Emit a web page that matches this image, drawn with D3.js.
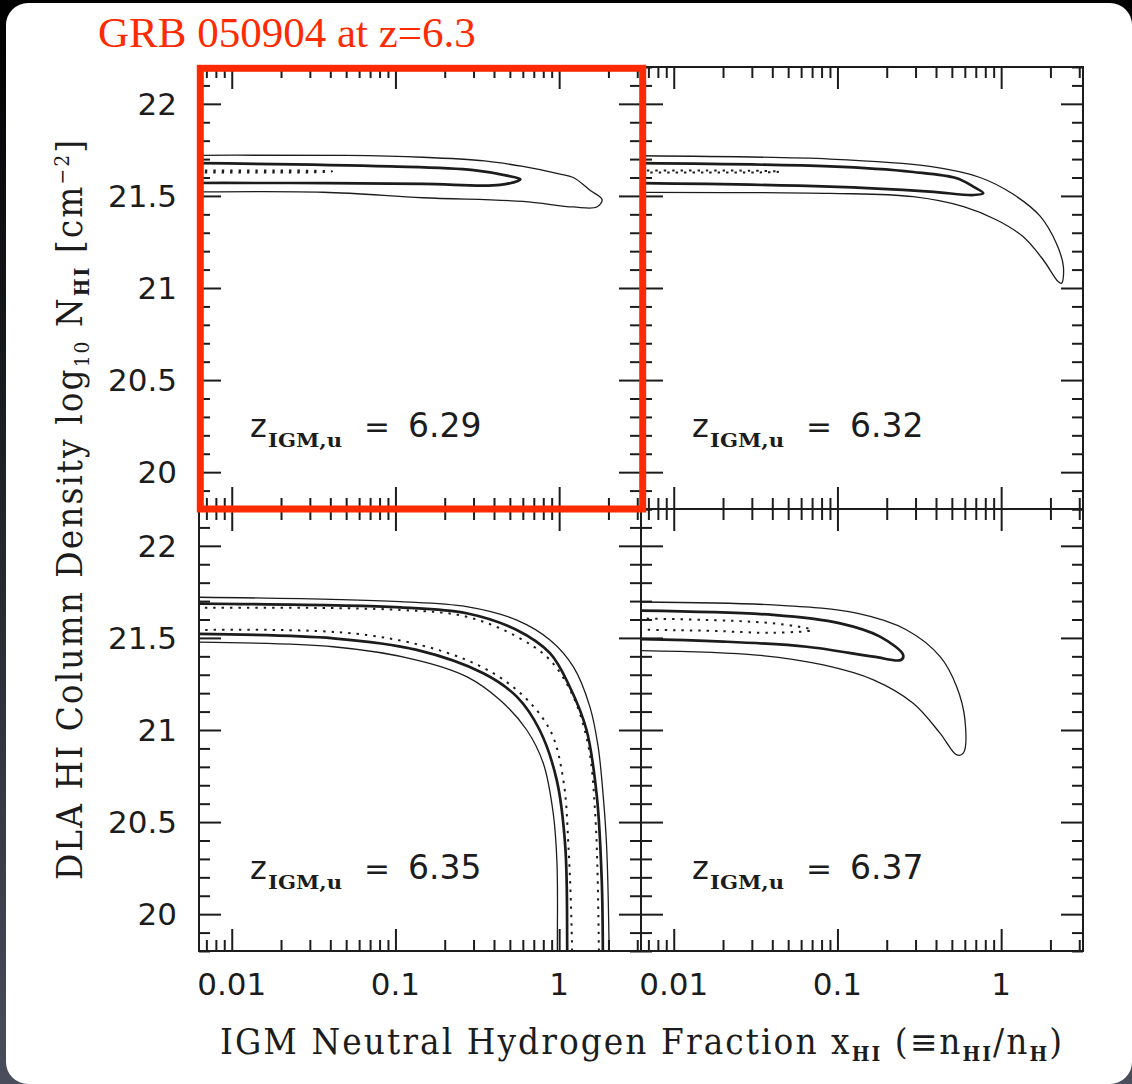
<!DOCTYPE html>
<html><head><meta charset="utf-8">
<script src="https://cdn.jsdelivr.net/npm/d3@7"></script>
<style>html,body{margin:0;padding:0;background:#000;overflow:hidden}</style>
</head><body><svg id="c" width="1132" height="1084"></svg>
<script>
// ---------------- data ----------------
const titleText = "GRB 050904 at z=6.3";
const xMajorTicks = [0.01, 0.1, 1];
const xTickLabels = ["0.01", "0.1", "1"];
const yMajorTicks = [20, 20.5, 21, 21.5, 22];
const yTickLabels = ["20", "20.5", "21", "21.5", "22"];
const zIGM = ["6.29", "6.32", "6.35", "6.37"];

// contours: [x_HI, log10 N_HI]  (first/last points lie left of the plotted range)
const c629Thin = [[0.0005,21.72],[0.003,21.72],[0.05,21.72],[0.147,21.71],[0.35,21.69],[0.60,21.66],[1.0,21.62],[1.22,21.60],[1.55,21.53],[1.83,21.48],[1.70,21.44],[1.22,21.44],[0.60,21.47],[0.147,21.49],[0.036,21.52],[0.003,21.52],[0.0005,21.52]];
const c629Thick = [[0.0005,21.68],[0.003,21.68],[0.093,21.66],[0.30,21.64],[0.48,21.61],[0.58,21.59],[0.435,21.56],[0.147,21.565],[0.0227,21.57],[0.003,21.57],[0.0005,21.57]];
const c629Dot = [[0.0005,21.637],[0.003,21.637],[0.03,21.637],[0.041,21.633],[0.03,21.628],[0.003,21.628],[0.0005,21.628]];

const c632Thin = [[0.0005,21.72],[0.003,21.72],[0.09,21.70],[0.367,21.66],[0.743,21.60],[1.18,21.51],[1.73,21.39],[2.18,21.24],[2.40,21.116],[2.34,21.026],[2.23,21.035],[1.81,21.152],[1.36,21.279],[0.94,21.369],[0.59,21.442],[0.29,21.496],[0.09,21.514],[0.003,21.52],[0.0005,21.52]];
const c632Thick = [[0.0005,21.68],[0.003,21.68],[0.09,21.66],[0.29,21.63],[0.535,21.596],[0.676,21.55],[0.778,21.514],[0.676,21.505],[0.367,21.523],[0.09,21.55],[0.003,21.572],[0.0005,21.572]];
const c632Dot = [[0.0005,21.637],[0.003,21.637],[0.035,21.636],[0.0446,21.632],[0.035,21.628],[0.003,21.628],[0.0005,21.628]];

const c635Thin = [[0.0005,21.724],[0.003,21.724],[0.107,21.697],[0.272,21.67],[0.551,21.597],[0.879,21.489],[1.22,21.344],[1.54,21.127],[1.73,20.91],[1.86,20.638],[1.95,20.367],[2.02,19.8],[2.03,19.3],[0.975,19.3],[0.975,19.8],[0.97,20.277],[0.92,20.548],[0.80,20.819],[0.634,21.0],[0.435,21.163],[0.272,21.29],[0.135,21.38],[0.0417,21.452],[0.003,21.48],[0.0005,21.48]];
const c635Thick = [[0.0005,21.688],[0.003,21.688],[0.107,21.666],[0.272,21.634],[0.551,21.543],[0.879,21.417],[1.16,21.235],[1.47,21.0],[1.70,20.638],[1.82,20.186],[1.85,19.8],[1.86,19.3],[1.12,19.3],[1.12,19.8],[1.09,20.367],[0.966,20.729],[0.76,21.0],[0.551,21.181],[0.344,21.308],[0.135,21.435],[0.0417,21.498],[0.003,21.525],[0.0005,21.525]];
const c635Dot = [[0.0005,21.664],[0.003,21.664],[0.107,21.652],[0.272,21.615],[0.551,21.507],[0.879,21.38],[1.22,21.181],[1.51,20.91],[1.66,20.548],[1.75,19.8],[1.76,19.3],[1.20,19.3],[1.20,19.8],[1.14,20.367],[1.06,20.729],[0.879,21.0],[0.551,21.217],[0.272,21.38],[0.0667,21.516],[0.003,21.543],[0.0005,21.543]];

const c637Thin = [[0.0005,21.697],[0.003,21.697],[0.0405,21.679],[0.131,21.634],[0.265,21.543],[0.424,21.398],[0.535,21.235],[0.601,21.055],[0.587,20.874],[0.535,20.865],[0.424,20.982],[0.29,21.145],[0.166,21.272],[0.082,21.353],[0.0321,21.407],[0.003,21.435],[0.0005,21.435]];
const c637Thick = [[0.0005,21.652],[0.003,21.652],[0.0405,21.625],[0.104,21.579],[0.182,21.507],[0.252,21.407],[0.244,21.38],[0.166,21.398],[0.0649,21.452],[0.0201,21.48],[0.003,21.498],[0.0005,21.498]];
const c637Dot = [[0.0005,21.612],[0.003,21.61],[0.0405,21.579],[0.0697,21.543],[0.0405,21.528],[0.0159,21.539],[0.003,21.547],[0.0005,21.547]];

const panelThin = [c629Thin, c632Thin, c635Thin, c637Thin];
const panelThick = [c629Thick, c632Thick, c635Thick, c637Thick];
const panelDot = [c629Dot, c632Dot, c635Dot, c637Dot];

// ---------------- layout ----------------
const W = 442, H = 442;
const panelPos = [[199,67],[641,67],[199,509],[641,509]];
const ink = "#1c1c1c";
const tickFont = "'DejaVu Sans', sans-serif";
const serifFont = "'DejaVu Serif', serif";

const svg = d3.select("#c");
const defs = svg.append("defs");
const grad = defs.append("linearGradient").attr("id","bg").attr("x1",0).attr("y1",0).attr("x2",0).attr("y2",1);
grad.append("stop").attr("offset","0%").attr("stop-color","#000");
grad.append("stop").attr("offset","100%").attr("stop-color","#4a4d5b");
svg.append("rect").attr("width",1132).attr("height",1084).attr("fill","url(#bg)");
svg.append("rect").attr("x",6).attr("y",3).attr("width",1126).attr("height",1081).attr("rx",22).attr("fill","#fff");

const x = d3.scaleLog().domain([Math.pow(10,-2.2), Math.pow(10,0.5)]).range([0, W]);
const y = d3.scaleLinear().domain([19.8, 22.2]).range([H, 0]);

const xAll = x.ticks();
const xMinor = xAll.filter(v => !xMajorTicks.some(m => Math.abs(m - v) < 1e-9));
const yAll = y.ticks(24);
const yMinor = yAll.filter(v => !yMajorTicks.some(m => Math.abs(m - v) < 1e-6));

const line = d3.line().x(d => x(d[0])).y(d => y(d[1])).curve(d3.curveCatmullRomClosed.alpha(0.5));

function styleAxis(g){
  g.select(".domain").remove();
  g.selectAll(".tick line").attr("stroke", ink).attr("stroke-width", 2);
}

panelPos.forEach((p, i) => {
  const g = svg.append("g").attr("transform", `translate(${p[0]},${p[1]})`);
  defs.append("clipPath").attr("id", "clip" + i).append("rect").attr("width", W).attr("height", H);
  const cg = g.append("g").attr("clip-path", `url(#clip${i})`);
  cg.append("path").attr("d", line(panelThin[i])).attr("fill","none").attr("stroke",ink).attr("stroke-width",1.3);
  cg.append("path").attr("d", line(panelThick[i])).attr("fill","none").attr("stroke",ink).attr("stroke-width",2.7);
  cg.append("path").attr("d", line(panelDot[i])).attr("fill","none").attr("stroke",ink).attr("stroke-width",2).attr("stroke-dasharray","2.4,6");

  // ticks on all four sides
  const axes = [
    [d3.axisBottom, `translate(0,${H})`, x],
    [d3.axisTop, `translate(0,0)`, x],
    [d3.axisLeft, `translate(0,0)`, y],
    [d3.axisRight, `translate(${W},0)`, y]
  ];
  axes.forEach(([fn, tr, sc]) => {
    const isX = sc === x;
    g.append("g").attr("transform", tr)
      .call(fn(sc).tickValues(isX ? xMinor : yMinor).tickSize(-11).tickFormat(""))
      .call(styleAxis);
    g.append("g").attr("transform", tr)
      .call(fn(sc).tickValues(isX ? xMajorTicks : yMajorTicks).tickSize(-22).tickFormat(""))
      .call(styleAxis);
  });
  g.append("rect").attr("width", W).attr("height", H).attr("fill","none").attr("stroke", ink).attr("stroke-width", 2);

  if (i % 2 === 0) {
    g.selectAll(".ylab").data(yMajorTicks).enter().append("text")
      .attr("x", -22).attr("y", d => y(d)).attr("dy", "0.36em")
      .attr("text-anchor", "end").attr("font-family", tickFont).attr("font-size", 31).attr("fill", ink)
      .text((d, k) => yTickLabels[k]);
  }
  if (i >= 2) {
    g.selectAll(".xlab").data(xMajorTicks).enter().append("text")
      .attr("x", d => x(d)).attr("y", H + 44)
      .attr("text-anchor", "middle").attr("font-family", tickFont).attr("font-size", 31).attr("fill", ink)
      .text((d, k) => xTickLabels[k]);
  }
  const by = 370;
  g.append("text").attr("x", 51).attr("y", by).attr("font-family", tickFont).attr("font-size", 32).attr("fill", ink).text("z");
  g.append("text").attr("x", 69).attr("y", by + 10).attr("font-family", "'DejaVu Serif', serif").attr("font-weight","bold")
    .attr("font-size", 19).attr("fill", ink).attr("textLength", 74).attr("lengthAdjust","spacingAndGlyphs").text("IGM,u");
  g.append("text").attr("x", 178).attr("y", by).attr("text-anchor","middle").attr("font-family", tickFont).attr("font-size", 31).attr("fill", ink).text("=");
  g.append("text").attr("x", 209).attr("y", by).attr("font-family", tickFont).attr("font-size", 33).attr("fill", ink).text(zIGM[i]);
});

// red highlight box + title
svg.append("rect").attr("x", 200.3).attr("y", 68.3).attr("width", 442.4).attr("height", 440.7)
  .attr("fill", "none").attr("stroke", "#ff2a00").attr("stroke-width", 7);
svg.append("text").attr("x", 98).attr("y", 47).attr("font-family", "'Liberation Serif','Times New Roman',serif")
  .attr("font-size", 43).attr("fill", "#ff2a00").text(titleText);

// axis labels: narrow glyphs with slight tracking, fitted to target width
function fitLabel(g, text, target, gapPx){
  const L = text.node().getComputedTextLength();
  const n = text.text().length;
  let s = (target - n * gapPx) / L;
  s = Math.max(0.6, Math.min(1, s));
  g.attr("data-s", s);
  g.attr("transform", g.attr("transform") + ` scale(${s},1)`);
  text.attr("textLength", target / s).attr("lengthAdjust", "spacing");
}

const xg = svg.append("g").attr("transform", "translate(220,1054)");
const xl = xg.append("text").attr("font-family", serifFont).attr("font-size", 35).attr("fill", ink);
xl.append("tspan").text("IGM Neutral Hydrogen Fraction x");
xl.append("tspan").attr("dy", 7).attr("font-size", 20).attr("font-weight","bold").text("HI");
xl.append("tspan").attr("dy", -7).attr("font-weight","normal").text(" (≡n");
xl.append("tspan").attr("dy", 7).attr("font-size", 20).attr("font-weight","bold").text("HI");
xl.append("tspan").attr("dy", -7).attr("font-weight","normal").text("/n");
xl.append("tspan").attr("dy", 7).attr("font-size", 20).attr("font-weight","bold").text("H");
xl.append("tspan").attr("dy", -7).attr("font-weight","normal").text(")");
fitLabel(xg, xl, 842, 2);

const yg = svg.append("g").attr("transform", "translate(82,880) rotate(-90)");
const yl = yg.append("text").attr("font-family", serifFont).attr("font-size", 35).attr("fill", ink);
yl.append("tspan").text("DLA HI Column Density log");
yl.append("tspan").attr("dy", 7).attr("font-size", 20).text("10");
yl.append("tspan").attr("dy", -7).text(" N");
yl.append("tspan").attr("dy", 7).attr("font-size", 20).attr("font-weight","bold").text("HI");
yl.append("tspan").attr("dy", -7).attr("font-weight","normal").text(" [cm");
yl.append("tspan").attr("dy", -13).attr("font-size", 20).text("−2");
yl.append("tspan").attr("dy", 13).text("]");
fitLabel(yg, yl, 740, 2);
</script>
</body></html>
